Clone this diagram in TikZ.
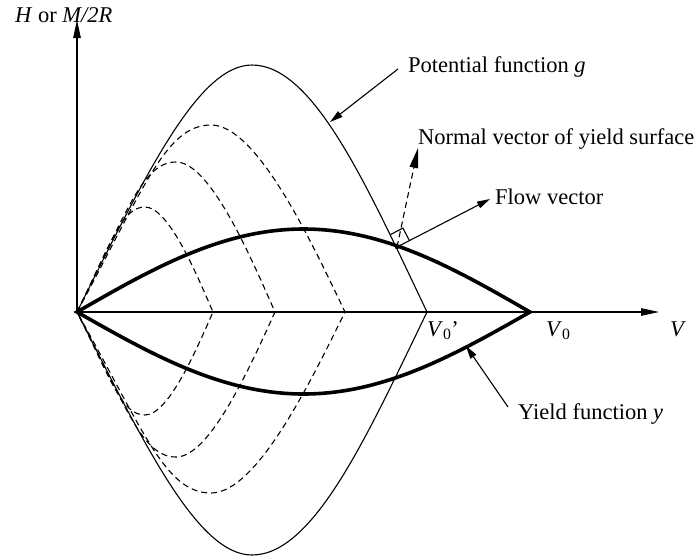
\documentclass[tikz,border=0pt]{standalone}
\usepackage{fontspec}
\setmainfont{Liberation Serif}
\usetikzlibrary{arrows.meta,calc}
\begin{document}
\begin{tikzpicture}[x=1pt,y=-1pt,
  thinline/.style={line width=1.1pt},
  axisline/.style={line width=1.1pt,-{Triangle[length=18pt,width=7.5pt]}},
  yieldline/.style={line width=3.6pt,line join=miter},
  potline/.style={line width=1.1pt,line join=miter},
  dsh/.style={line width=1.1pt,dash pattern=on 6pt off 4pt},
  ptr/.style={line width=1.1pt,-{Triangle[length=13pt,width=7pt]}},
  lbl/.style={font=\fontsize{22.5}{27}\selectfont,inner sep=0pt,anchor=base west}]
\useasboundingbox (0,0) rectangle (699,558);

% key points
\coordinate (O) at (77,312);
\coordinate (Htip) at (77,20);
\coordinate (Vtip) at (659,312);
\coordinate (V0) at (530,312);
\coordinate (V0p) at (427,312);
\coordinate (Gtop) at (252,65);
\coordinate (Gbot) at (252,555);
\coordinate (F) at (397,247);
\coordinate (Ntip) at (418,148);
\coordinate (Ftip) at (490,199);
\coordinate (potS) at (398,69);
\coordinate (potT) at (330,122);
\coordinate (yS) at (508,407);
\coordinate (yT) at (466,346);

% axes
\draw[axisline] (O) -- (Htip);
\draw[axisline] (O) -- (Vtip);

% dashed intermediate potential curves
\foreach \s/\hu/\hl in {136/105/103, 198/150/145, 268/187/181}{
  \draw[dsh] (O)
    .. controls ({77+0.25*\s},{312-0.66*\hu}) and ({77+0.33*\s},{312-\hu}) .. ({77+0.5*\s},{312-\hu})
    .. controls ({77+0.67*\s},{312-\hu}) and ({77+0.87*\s},{312-0.39*\hu}) .. ({77+\s},312)
    .. controls ({77+0.87*\s},{312+0.39*\hl}) and ({77+0.67*\s},{312+\hl}) .. ({77+0.5*\s},{312+\hl})
    .. controls ({77+0.33*\s},{312+\hl}) and ({77+0.25*\s},{312+0.66*\hl}) .. (O);
}

% potential function g
\draw[potline] (O) .. controls (145.7,174.6) and (198,65) .. (Gtop)
  .. controls (313.6,65) and (366.7,185.4) .. (V0p)
  .. controls (366.7,436.6) and (313.6,555) .. (Gbot)
  .. controls (198,555) and (145.7,447.2) .. (O) -- cycle;

% yield function y
\draw[yieldline] plot[domain=0:1,samples=120] ({77+453*\x},{312-83*sin(180*\x)})
  -- plot[domain=1:0,samples=120] ({77+453*\x},{312+82*sin(180*\x)}) -- cycle;

% right-angle mark and vectors
\draw[thinline] ($(F)+(-6.5,-12.4)$) -- ($(F)+(5.9,-18.9)$) -- ($(F)+(12.4,-6.5)$);
\draw[ptr] (F) -- (Ftip);
\draw[line width=1.1pt,dash pattern=on 6pt off 4pt,-{Triangle[length=20pt,width=8.5pt]}] (F) -- (Ntip);
\fill (F) circle (2.2pt);

% pointers
\draw[ptr] (potS) -- (potT);
\draw[ptr] (yS) -- (yT);

% labels
\node[lbl] (hl) at (15,22) {\textit{H} or \textit{M/2R}};
\node[lbl] (potl) at (408,72) {Potential function \textit{g}};
\node[lbl] (norml) at (418,144) {Normal vector of yield surface};
\node[lbl] (flowl) at (495,204) {Flow vector};
\node[lbl] (yl) at (518,419) {Yield function \textit{y}};
\node[lbl] (v0pl) at (427,336) {\textit{V}\textsubscript{0}'};
\node[lbl] (v0l) at (546,336) {\textit{V}\textsubscript{0}};
\node[lbl] (vl) at (670,336) {\textit{V}};
\end{tikzpicture}
\end{document}
